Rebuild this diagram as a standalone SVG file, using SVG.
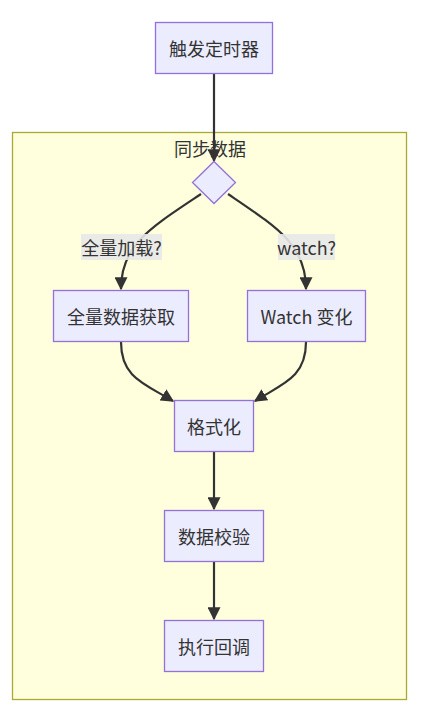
<svg xmlns="http://www.w3.org/2000/svg" width="423" height="712" viewBox="0 0 423 712">
<style>
.node rect,.node polygon{fill:#ECECFF;stroke:#9370DB;stroke-width:1.3}
text{font-family:"Noto Sans CJK SC","Liberation Sans",sans-serif;font-size:18px;fill:#333;text-anchor:middle;dominant-baseline:central}
.edge{fill:none;stroke:#333;stroke-width:2.2}
.lbl{fill:#e8e8e8;opacity:0.9}
</style>
<defs>
<marker id="ah" viewBox="0 0 10 10" refX="9" refY="5" markerWidth="13" markerHeight="13" markerUnits="userSpaceOnUse" orient="auto">
<path d="M0,0 L10,5 L0,10 z" fill="#333"/>
</marker>
</defs>
<g id="cluster">
<rect x="12.5" y="132.5" width="394" height="567" fill="#ffffde" stroke="#aaaa33" stroke-width="1.3"/>
<text x="210" y="148">同步数据</text>
</g>
<g id="connectors">
<path class="edge" d="M214,73 L214,161" marker-end="url(#ah)"/>
<path class="edge" d="M201,194 C150,228 121,245 121,289" marker-end="url(#ah)"/>
<path class="edge" d="M228,194 C278,228 306,245 306,289" marker-end="url(#ah)"/>
<path class="edge" d="M121,342 C121,378 145,384 173,401" marker-end="url(#ah)"/>
<path class="edge" d="M306,342 C306,378 282,384 255,401" marker-end="url(#ah)"/>
<path class="edge" d="M214,452 L214,509" marker-end="url(#ah)"/>
<path class="edge" d="M214,562 L214,619" marker-end="url(#ah)"/>
</g>
<g id="edge-labels">
<g id="label-full"><rect class="lbl" x="81" y="234" width="81" height="26"/><text x="121.5" y="247">全量加载?</text></g>
<g id="label-watch"><rect class="lbl" x="278" y="234" width="57" height="26"/><text x="306.5" y="247">watch?</text></g>
</g>
<g id="n-trigger" class="node"><rect x="155.5" y="22.5" width="117" height="51"/><text x="214" y="48">触发定时器</text></g>
<g id="n-decision" class="node"><polygon points="214,161.5 235.5,182.5 214,203.5 192.5,182.5"/></g>
<g id="n-full" class="node"><rect x="53.5" y="290.5" width="135" height="51"/><text x="121" y="316">全量数据获取</text></g>
<g id="n-watch" class="node"><rect x="247.5" y="290.5" width="118" height="51"/><text x="306.5" y="316">Watch 变化</text></g>
<g id="n-format" class="node"><rect x="174.5" y="400.5" width="79" height="51"/><text x="214" y="426">格式化</text></g>
<g id="n-validate" class="node"><rect x="164.5" y="510.5" width="99" height="51"/><text x="214" y="536">数据校验</text></g>
<g id="n-callback" class="node"><rect x="164.5" y="620.5" width="99" height="51"/><text x="214" y="646">执行回调</text></g>
</svg>
